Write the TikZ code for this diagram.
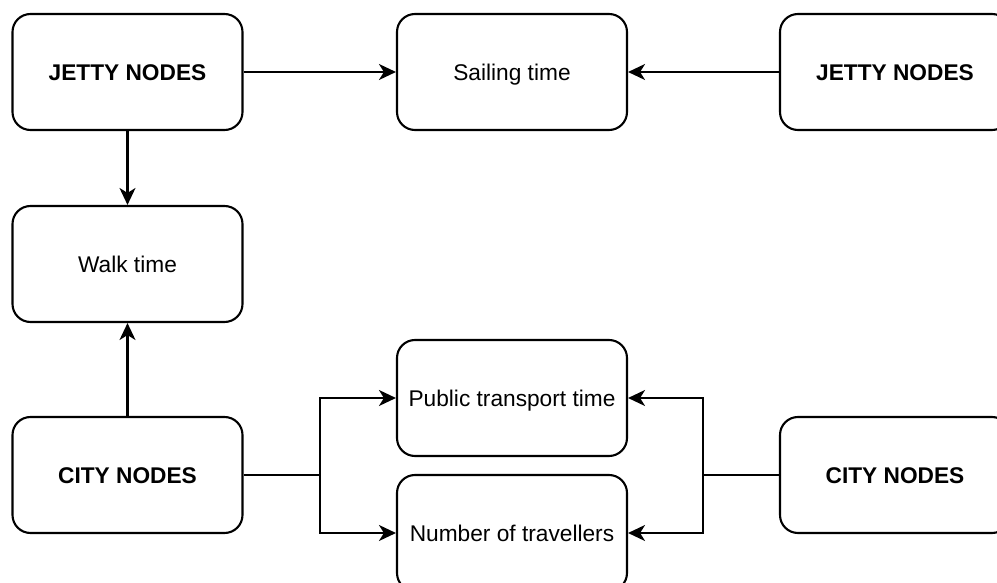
\documentclass[tikz,border=0pt]{standalone}
\usepackage{fontspec}
\setmainfont{Liberation Sans}
\usetikzlibrary{arrows.meta, positioning}

\begin{document}
\begin{tikzpicture}[
  x=1pt, y=-1pt,
  box/.style={draw, line width=2.1pt, rounded corners=18pt, minimum width=230pt, minimum height=116pt, text height=16.3pt, text depth=0pt, align=center, font=\fontsize{22.7}{27}\selectfont},
  link/.style={line width=2.1pt, -{Stealth[length=17pt, width=16pt, inset=5pt]}},
  wire/.style={line width=2.1pt}
]
  \useasboundingbox (0,0) rectangle (997,583);
  \clip (0,0) rectangle (997,583);
  \node[box] (jettyA) at (127.5,72) {\textbf{JETTY NODES}};
  \node[box] (sail) at (512,72) {Sailing time};
  \node[box] (jettyB) at (895,72) {\textbf{JETTY NODES}};
  \node[box] (walk) at (127.5,264) {Walk time};
  \node[box] (cityA) at (127.5,475) {\textbf{CITY NODES}};
  \node[box] (pub) at (512,398) {Public transport time};
  \node[box] (num) at (512,533) {Number of travellers};
  \node[box] (cityB) at (895,475) {\textbf{CITY NODES}};
  \coordinate (splitA) at (320,475);
  \coordinate (splitB) at (703,475);

  \draw[link] (jettyA) -- (sail);
  \draw[link] (jettyB) -- (sail);
  \draw[link] (jettyA) -- (walk);
  \draw[link] (cityA) -- (walk);
  \draw[wire] (cityA) -- (splitA);
  \draw[link] (splitA) |- (pub);
  \draw[link] (splitA) |- (num);
  \draw[wire] (cityB) -- (splitB);
  \draw[link] (splitB) |- (pub);
  \draw[link] (splitB) |- (num);
\end{tikzpicture}
\end{document}
